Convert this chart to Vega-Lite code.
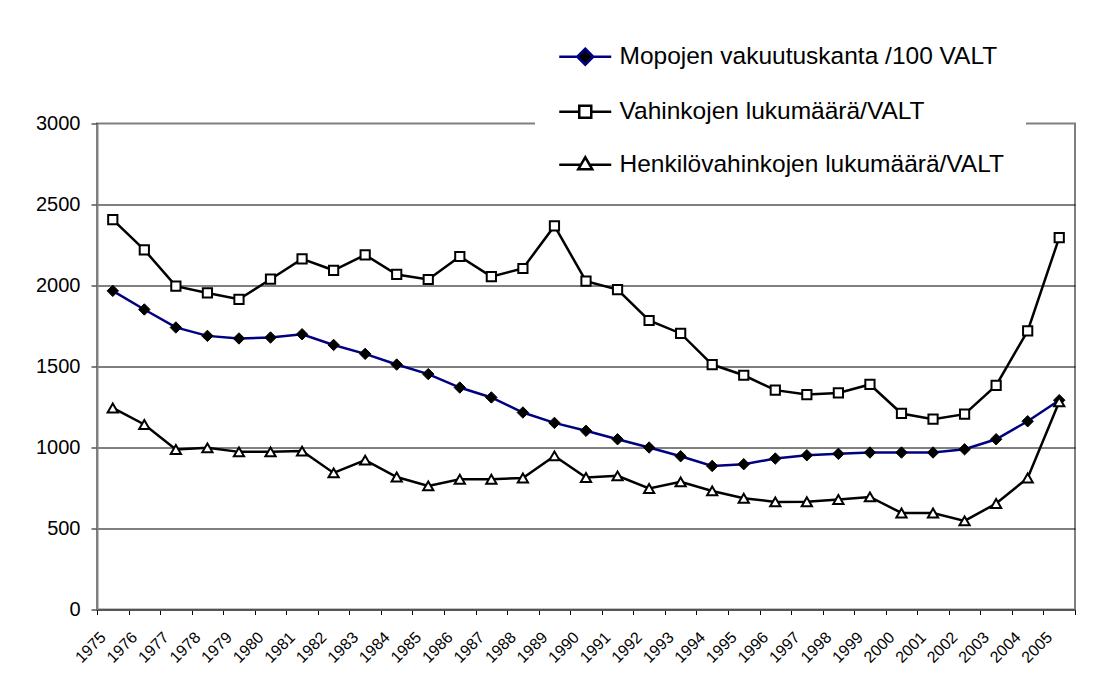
{
  "$schema": "https://vega.github.io/schema/vega-lite/v6.json",
  "width": 978,
  "height": 486,
  "autosize": {"type": "none"},
  "padding": {"left": 97, "top": 123.5, "right": 31, "bottom": 72.5},
  "background": "white",
  "config": {"font": "Liberation Sans", "view": {"stroke": "#808080", "strokeWidth": 2}},
  "data": {"values": [
    {"year": "1975", "series": "Mopojen vakuutuskanta /100 VALT", "value": 1967},
    {"year": "1976", "series": "Mopojen vakuutuskanta /100 VALT", "value": 1852},
    {"year": "1977", "series": "Mopojen vakuutuskanta /100 VALT", "value": 1741},
    {"year": "1978", "series": "Mopojen vakuutuskanta /100 VALT", "value": 1689},
    {"year": "1979", "series": "Mopojen vakuutuskanta /100 VALT", "value": 1673},
    {"year": "1980", "series": "Mopojen vakuutuskanta /100 VALT", "value": 1679},
    {"year": "1981", "series": "Mopojen vakuutuskanta /100 VALT", "value": 1699},
    {"year": "1982", "series": "Mopojen vakuutuskanta /100 VALT", "value": 1633},
    {"year": "1983", "series": "Mopojen vakuutuskanta /100 VALT", "value": 1578},
    {"year": "1984", "series": "Mopojen vakuutuskanta /100 VALT", "value": 1512},
    {"year": "1985", "series": "Mopojen vakuutuskanta /100 VALT", "value": 1453},
    {"year": "1986", "series": "Mopojen vakuutuskanta /100 VALT", "value": 1370},
    {"year": "1987", "series": "Mopojen vakuutuskanta /100 VALT", "value": 1309},
    {"year": "1988", "series": "Mopojen vakuutuskanta /100 VALT", "value": 1216},
    {"year": "1989", "series": "Mopojen vakuutuskanta /100 VALT", "value": 1152},
    {"year": "1990", "series": "Mopojen vakuutuskanta /100 VALT", "value": 1103},
    {"year": "1991", "series": "Mopojen vakuutuskanta /100 VALT", "value": 1051},
    {"year": "1992", "series": "Mopojen vakuutuskanta /100 VALT", "value": 1000},
    {"year": "1993", "series": "Mopojen vakuutuskanta /100 VALT", "value": 946},
    {"year": "1994", "series": "Mopojen vakuutuskanta /100 VALT", "value": 886},
    {"year": "1995", "series": "Mopojen vakuutuskanta /100 VALT", "value": 897},
    {"year": "1996", "series": "Mopojen vakuutuskanta /100 VALT", "value": 932},
    {"year": "1997", "series": "Mopojen vakuutuskanta /100 VALT", "value": 952},
    {"year": "1998", "series": "Mopojen vakuutuskanta /100 VALT", "value": 961},
    {"year": "1999", "series": "Mopojen vakuutuskanta /100 VALT", "value": 969},
    {"year": "2000", "series": "Mopojen vakuutuskanta /100 VALT", "value": 969},
    {"year": "2001", "series": "Mopojen vakuutuskanta /100 VALT", "value": 969},
    {"year": "2002", "series": "Mopojen vakuutuskanta /100 VALT", "value": 989},
    {"year": "2003", "series": "Mopojen vakuutuskanta /100 VALT", "value": 1051},
    {"year": "2004", "series": "Mopojen vakuutuskanta /100 VALT", "value": 1162},
    {"year": "2005", "series": "Mopojen vakuutuskanta /100 VALT", "value": 1292},
    {"year": "1975", "series": "Vahinkojen lukumäärä/VALT", "value": 2407},
    {"year": "1976", "series": "Vahinkojen lukumäärä/VALT", "value": 2220},
    {"year": "1977", "series": "Vahinkojen lukumäärä/VALT", "value": 1996},
    {"year": "1978", "series": "Vahinkojen lukumäärä/VALT", "value": 1954},
    {"year": "1979", "series": "Vahinkojen lukumäärä/VALT", "value": 1915},
    {"year": "1980", "series": "Vahinkojen lukumäärä/VALT", "value": 2039},
    {"year": "1981", "series": "Vahinkojen lukumäärä/VALT", "value": 2164},
    {"year": "1982", "series": "Vahinkojen lukumäärä/VALT", "value": 2094},
    {"year": "1983", "series": "Vahinkojen lukumäärä/VALT", "value": 2189},
    {"year": "1984", "series": "Vahinkojen lukumäärä/VALT", "value": 2068},
    {"year": "1985", "series": "Vahinkojen lukumäärä/VALT", "value": 2037},
    {"year": "1986", "series": "Vahinkojen lukumäärä/VALT", "value": 2179},
    {"year": "1987", "series": "Vahinkojen lukumäärä/VALT", "value": 2055},
    {"year": "1988", "series": "Vahinkojen lukumäärä/VALT", "value": 2105},
    {"year": "1989", "series": "Vahinkojen lukumäärä/VALT", "value": 2368},
    {"year": "1990", "series": "Vahinkojen lukumäärä/VALT", "value": 2027},
    {"year": "1991", "series": "Vahinkojen lukumäärä/VALT", "value": 1975},
    {"year": "1992", "series": "Vahinkojen lukumäärä/VALT", "value": 1784},
    {"year": "1993", "series": "Vahinkojen lukumäärä/VALT", "value": 1704},
    {"year": "1994", "series": "Vahinkojen lukumäärä/VALT", "value": 1512},
    {"year": "1995", "series": "Vahinkojen lukumäärä/VALT", "value": 1446},
    {"year": "1996", "series": "Vahinkojen lukumäärä/VALT", "value": 1354},
    {"year": "1997", "series": "Vahinkojen lukumäärä/VALT", "value": 1327},
    {"year": "1998", "series": "Vahinkojen lukumäärä/VALT", "value": 1337},
    {"year": "1999", "series": "Vahinkojen lukumäärä/VALT", "value": 1389},
    {"year": "2000", "series": "Vahinkojen lukumäärä/VALT", "value": 1210},
    {"year": "2001", "series": "Vahinkojen lukumäärä/VALT", "value": 1175},
    {"year": "2002", "series": "Vahinkojen lukumäärä/VALT", "value": 1206},
    {"year": "2003", "series": "Vahinkojen lukumäärä/VALT", "value": 1383},
    {"year": "2004", "series": "Vahinkojen lukumäärä/VALT", "value": 1720},
    {"year": "2005", "series": "Vahinkojen lukumäärä/VALT", "value": 2296},
    {"year": "1975", "series": "Henkilövahinkojen lukumäärä/VALT", "value": 1244},
    {"year": "1976", "series": "Henkilövahinkojen lukumäärä/VALT", "value": 1142},
    {"year": "1977", "series": "Henkilövahinkojen lukumäärä/VALT", "value": 988},
    {"year": "1978", "series": "Henkilövahinkojen lukumäärä/VALT", "value": 998},
    {"year": "1979", "series": "Henkilövahinkojen lukumäärä/VALT", "value": 973},
    {"year": "1980", "series": "Henkilövahinkojen lukumäärä/VALT", "value": 973},
    {"year": "1981", "series": "Henkilövahinkojen lukumäärä/VALT", "value": 978},
    {"year": "1982", "series": "Henkilövahinkojen lukumäärä/VALT", "value": 843},
    {"year": "1983", "series": "Henkilövahinkojen lukumäärä/VALT", "value": 922},
    {"year": "1984", "series": "Henkilövahinkojen lukumäärä/VALT", "value": 818},
    {"year": "1985", "series": "Henkilövahinkojen lukumäärä/VALT", "value": 763},
    {"year": "1986", "series": "Henkilövahinkojen lukumäärä/VALT", "value": 804},
    {"year": "1987", "series": "Henkilövahinkojen lukumäärä/VALT", "value": 804},
    {"year": "1988", "series": "Henkilövahinkojen lukumäärä/VALT", "value": 812},
    {"year": "1989", "series": "Henkilövahinkojen lukumäärä/VALT", "value": 948},
    {"year": "1990", "series": "Henkilövahinkojen lukumäärä/VALT", "value": 815},
    {"year": "1991", "series": "Henkilövahinkojen lukumäärä/VALT", "value": 825},
    {"year": "1992", "series": "Henkilövahinkojen lukumäärä/VALT", "value": 747},
    {"year": "1993", "series": "Henkilövahinkojen lukumäärä/VALT", "value": 788},
    {"year": "1994", "series": "Henkilövahinkojen lukumäärä/VALT", "value": 732},
    {"year": "1995", "series": "Henkilövahinkojen lukumäärä/VALT", "value": 687},
    {"year": "1996", "series": "Henkilövahinkojen lukumäärä/VALT", "value": 664},
    {"year": "1997", "series": "Henkilövahinkojen lukumäärä/VALT", "value": 665},
    {"year": "1998", "series": "Henkilövahinkojen lukumäärä/VALT", "value": 679},
    {"year": "1999", "series": "Henkilövahinkojen lukumäärä/VALT", "value": 695},
    {"year": "2000", "series": "Henkilövahinkojen lukumäärä/VALT", "value": 596},
    {"year": "2001", "series": "Henkilövahinkojen lukumäärä/VALT", "value": 596},
    {"year": "2002", "series": "Henkilövahinkojen lukumäärä/VALT", "value": 547},
    {"year": "2003", "series": "Henkilövahinkojen lukumäärä/VALT", "value": 654},
    {"year": "2004", "series": "Henkilövahinkojen lukumäärä/VALT", "value": 812},
    {"year": "2005", "series": "Henkilövahinkojen lukumäärä/VALT", "value": 1282}
  ]},
  "encoding": {
    "x": {
      "field": "year", "type": "ordinal",
      "scale": {"type": "band", "paddingInner": 0, "paddingOuter": 0},
      "axis": {"title": null, "tickBand": "extent", "labelAngle": -45, "labelAlign": "right", "labelBaseline": "middle",
               "labelOffset": -10, "labelPadding": 20, "labelFontSize": 16, "labelColor": "black",
               "tickColor": "black", "tickSize": 5, "domainColor": "#555555", "domainWidth": 2, "grid": false}
    },
    "y": {
      "field": "value", "type": "quantitative",
      "scale": {"domain": [0, 3000], "nice": false},
      "axis": {"title": null, "values": [0, 500, 1000, 1500, 2000, 2500, 3000], "format": "d", "labelFontSize": 20, "labelColor": "black",
               "labelPadding": 11, "tickSize": 6, "tickColor": "black", "domainColor": "#808080", "domainWidth": 2,
               "grid": true, "gridColor": "black", "gridWidth": 1,
               "gridOpacity": {"condition": {"test": "datum.value === 3000 || datum.value === 0", "value": 0}, "value": 1}}
    }
  },
  "layer": [
    {
      "mark": {"type": "line", "strokeWidth": 2.5},
      "encoding": {
        "stroke": {"field": "series", "type": "nominal",
                   "scale": {"domain": ["Mopojen vakuutuskanta /100 VALT", "Vahinkojen lukumäärä/VALT", "Henkilövahinkojen lukumäärä/VALT"],
                             "range": ["#000080", "#000000", "#000000"]},
                   "legend": {"title": null, "orient": "none", "legendX": 438, "legendY": -101, "fillColor": "white", "padding": 22,
                             "labelFontSize": 24.5, "labelColor": "black", "labelOffset": 38, "labelLimit": 0,
                             "symbolSize": 400, "rowPadding": 28, "symbolStrokeWidth": 2.5,
                             "encode": {"symbols": {"update": {
                               "shape": {"signal": "indexof(datum.value, 'Mopo') === 0 ? 'M-1,0H0.8M2.4,0H4.2M1.6,-0.8L2.4,0L1.6,0.8L0.8,0Z' : indexof(datum.value, 'Vahin') === 0 ? 'M-1,0H1M2.2,0H4.2M1,-0.6H2.2V0.6H1Z' : 'M-1,0H1.16M2.04,0H4.2M1.6,-0.75L2.3,0.45L0.9,0.45Z'"},
                               "fill": {"signal": "indexof(datum.value, 'Mopo') === 0 ? '#000000' : '#ffffff'"},
                               "strokeWidth": {"value": 2.5},
                               "opacity": {"value": 1}
                             }}}}}
      }
    },
    {
      "transform": [{"filter": {"field": "series", "equal": "Mopojen vakuutuskanta /100 VALT"}}],
      "mark": {"type": "point", "shape": "diamond", "filled": true, "fill": "black", "stroke": "black", "strokeWidth": 1, "opacity": 1, "size": 130}
    },
    {
      "transform": [{"filter": {"field": "series", "equal": "Vahinkojen lukumäärä/VALT"}}],
      "mark": {"type": "point", "shape": "square", "fill": "white", "stroke": "black", "strokeWidth": 2, "opacity": 1, "size": 85}
    },
    {
      "transform": [{"filter": {"field": "series", "equal": "Henkilövahinkojen lukumäärä/VALT"}}],
      "mark": {"type": "point", "shape": "triangle-up", "fill": "white", "stroke": "black", "strokeWidth": 2, "opacity": 1, "size": 105}
    }
  ]
}
